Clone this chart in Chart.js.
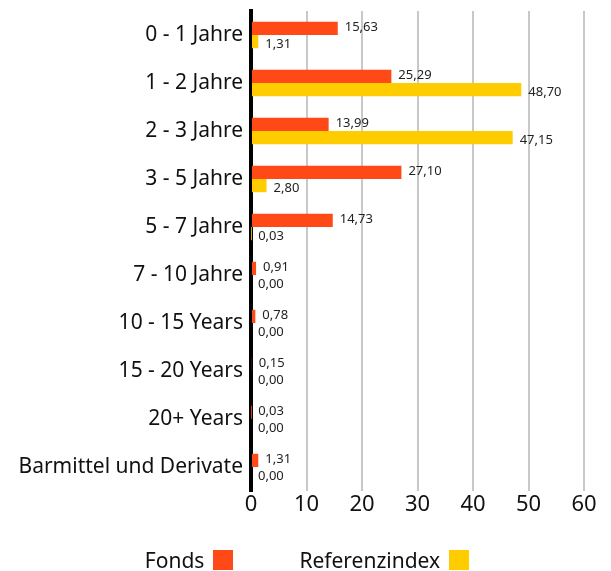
<!DOCTYPE html>
<html>
<head>
<meta charset="utf-8">
<script src="https://cdn.jsdelivr.net/npm/chart.js@4"></script>
<style>
  body { margin: 0; background: #fff; font-family: "Noto Sans", sans-serif; }
  #wrap { position: relative; width: 611px; height: 571px; }
  #legend { position: absolute; left: 3px; right: 0; top: 546px; display: flex; justify-content: center; gap: 66px; font-size: 21px; color: #111; }
  .item { display: flex; align-items: center; gap: 9px; }
  .box { width: 20px; height: 20px; display: inline-block; }
</style>
</head>
<body>
<div id="wrap">
  <canvas id="chart" width="611" height="571"></canvas>
  <div id="legend"></div>
</div>
<script>
// Kategorien (Laufzeitbänder)
const categories = ['0 - 1 Jahre', '1 - 2 Jahre', '2 - 3 Jahre', '3 - 5 Jahre', '5 - 7 Jahre',
  '7 - 10 Jahre', '10 - 15 Years', '15 - 20 Years', '20+ Years', 'Barmittel und Derivate'];
const fondsValues = [15.63, 25.29, 13.99, 27.10, 14.73, 0.91, 0.78, 0.15, 0.03, 1.31];
const indexValues = [1.31, 48.70, 47.15, 2.80, 0.03, 0.00, 0.00, 0.00, 0.00, 0.00];
const xTicks = [0, 10, 20, 30, 40, 50, 60];
const seriesNames = ['Fonds', 'Referenzindex'];
const seriesColors = ['#FF4A17', '#FFCC00'];

// Werte neben den Balken schreiben (deutsches Komma)
const valueLabels = {
  id: 'valueLabels',
  afterDatasetsDraw(chart) {
    const ctx = chart.ctx;
    ctx.save();
    ctx.font = '13px "Noto Sans"';
    ctx.fillStyle = '#222';
    ctx.textBaseline = 'middle';
    ctx.textAlign = 'left';
    chart.data.datasets.forEach((ds, i) => {
      const meta = chart.getDatasetMeta(i);
      meta.data.forEach((bar, j) => {
        const txt = ds.data[j].toFixed(2).replace('.', ',');
        const dy = i === 0 ? -1 : 3;
        ctx.fillText(txt, bar.x + 7, bar.y + dy);
      });
    });
    ctx.restore();
  }
};

const ctx = document.getElementById('chart').getContext('2d');
new Chart(ctx, {
  type: 'bar',
  data: {
    labels: categories,
    datasets: [
      { label: seriesNames[0], data: fondsValues, backgroundColor: seriesColors[0] },
      { label: seriesNames[1], data: indexValues, backgroundColor: seriesColors[1] }
    ]
  },
  options: {
    indexAxis: 'y',
    responsive: false,
    animation: false,
    categoryPercentage: 0.55,
    barPercentage: 1.0,
    layout: { padding: { top: 11, right: 27, left: 0, bottom: 0 } },
    plugins: {
      legend: { display: false },
      tooltip: { enabled: false }
    },
    scales: {
      x: {
        min: 0,
        max: 60,
        afterBuildTicks: s => { s.ticks = xTicks.map(v => ({ value: v })); },
        afterFit: s => { s.height = 80; },
        grid: { color: '#c8c8c8', lineWidth: 2, drawTicks: false },
        border: { display: false },
        ticks: { padding: 1, color: '#111', font: { family: 'Noto Sans', size: 22 } }
      },
      y: {
        afterFit: s => { s.width = 251; s.paddingTop = 0; s.paddingBottom = 0; },
        grid: { display: false, drawTicks: false },
        border: { display: true, color: '#000', width: 4 },
        ticks: { padding: 8, color: '#111', font: { family: 'Noto Sans', size: 21 } }
      }
    }
  },
  plugins: [valueLabels]
});

// Legende: Text links, Farbfeld rechts
const legend = document.getElementById('legend');
seriesNames.forEach((name, i) => {
  const item = document.createElement('span');
  item.className = 'item';
  item.innerHTML = '<span>' + name + '</span><span class="box" style="background:' + seriesColors[i] + '"></span>';
  legend.appendChild(item);
});
</script>
</body>
</html>
